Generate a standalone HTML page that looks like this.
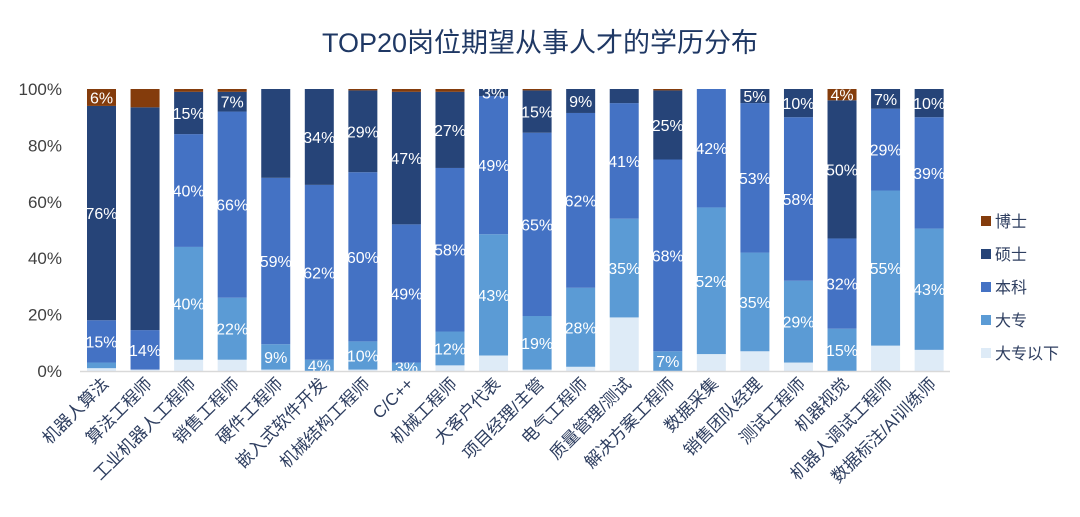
<!DOCTYPE html>
<html><head><meta charset="utf-8"><style>
body{margin:0;background:#fff;}
svg text{font-family:"Liberation Sans","Noto Sans CJK SC",sans-serif;}
</style></head><body>
<svg id="chart" width="1080" height="512" viewBox="0 0 1080 512">
<rect x="0" y="0" width="1080" height="512" fill="#fff"/>
<text x="540" y="52" text-anchor="middle" font-size="27" fill="#1f3864">TOP20岗位期望从事人才的学历分布</text>
<g id="yaxis"></g><g id="bars"></g><g id="xlabels"></g><g id="legend"></g>
<line x1="80" y1="371.5" x2="950" y2="371.5" stroke="#d9d9d9" stroke-width="1.5"/>
</svg>
<script>
const categories=["机器人算法","算法工程师","工业机器人工程师","销售工程师","硬件工程师","嵌入式软件开发","机械结构工程师","C/C++","机械工程师","大客户代表","项目经理/主管","电气工程师","质量管理/测试","解决方案工程师","数据采集","销售团队经理","测试工程师","机器视觉","机器人调试工程师","数据标注/AI训练师"];
const belowVals=[1,0.5,4,4,0.5,0,0.5,0,2,5.5,0.5,1.5,19,0,6,7,3,0,9,7.5];
const dazhuanVals=[2,0,40,22,9,4,10,3,12,43,19,28,35,7,52,35,29,15,55,43];
const benkeVals=[15,14,40,66,59,62,60,49,58,49,65,62,41,68,42,53,58,32,29,39.5];
const shuoshiVals=[76,79,15,7,31.5,34,29,47,27,2.5,15,8.5,5,24.5,0,5,10,49,7,10];
const boshiVals=[6,6.5,1,1,0,0,0.5,1,1,0,0.5,0,0,0.5,0,0,0,4,0,0];
const belowLabels=["","","","","","","","","","","","","","","","","","","",""];
const dazhuanLabels=["","","40%","22%","9%","4%","10%","3%","12%","43%","19%","28%","35%","7%","52%","35%","29%","15%","55%","43%"];
const benkeLabels=["15%","14%","40%","66%","59%","62%","60%","49%","58%","49%","65%","62%","41%","68%","42%","53%","58%","32%","29%","39%"];
const shuoshiLabels=["76%","","15%","7%","","34%","29%","47%","27%","3%","15%","9%","","25%","","5%","10%","50%","7%","10%"];
const boshiLabels=["6%","","","","","","","","","","","","","","","","","4%","",""];
const yTicks=[0,20,40,60,80,100];
const seriesNames=["博士","硕士","本科","大专","大专以下"];

const NS="http://www.w3.org/2000/svg";
const y0=371,yTop=89,x0=87,step=43.56,bw=29;
const Y=v=>y0-(v/100)*(y0-yTop);
const X=i=>x0+i*step;
function mk(tag,attrs,parent){const e=document.createElementNS(NS,tag);for(const k in attrs)e.setAttribute(k,attrs[k]);parent.appendChild(e);return e;}
const series=[
 {vals:belowVals,labels:belowLabels,color:"#deebf7",name:"below"},
 {vals:dazhuanVals,labels:dazhuanLabels,color:"#5b9bd5",name:"dazhuan"},
 {vals:benkeVals,labels:benkeLabels,color:"#4472c4",name:"benke"},
 {vals:shuoshiVals,labels:shuoshiLabels,color:"#264478",name:"shuoshi"},
 {vals:boshiVals,labels:boshiLabels,color:"#843c0c",name:"boshi"}];
const ya=document.getElementById('yaxis');
yTicks.forEach(t=>{const e=mk('text',{x:62,y:Y(t)+6,'text-anchor':'end','font-size':17,fill:'#404040'},ya);e.textContent=t+'%';

});
const bg=document.getElementById('bars');
categories.forEach((c,i)=>{let cum=0;
 series.forEach(s=>{const v=s.vals[i];const yt=Y(cum+v),yb=Y(cum);
  if(v>0){const r=mk('rect',{x:X(i),y:yt,width:bw,height:yb-yt,fill:s.color},bg);
  
  }
  if(s.labels[i]){const t=mk('text',{x:X(i)+bw/2,y:(yt+yb)/2+6,'text-anchor':'middle','font-size':16,fill:'#fff'},bg);t.textContent=s.labels[i];
  
  }
  cum+=v;});
 const xl=document.getElementById('xlabels');
 const cx=X(i)+bw/2+8,cy=385;
 const t=mk('text',{x:cx,y:cy,'text-anchor':'end','font-size':17,fill:'#2e3e60',transform:`rotate(-45 ${cx} ${cy})`},xl);t.textContent=c;
 
 
});
const lg=document.getElementById('legend');
const lcol=["#843c0c","#264478","#4472c4","#5b9bd5","#deebf7"];
seriesNames.forEach((n,i)=>{const y=222+i*33;
 const r=mk('rect',{x:981,y:y-6,width:10,height:10,fill:lcol[i]},lg);
 
 
 const t=mk('text',{x:995,y:y+5,'font-size':16,fill:'#2e3e60'},lg);t.textContent=n;
 
 });
</script>
</body></html>
